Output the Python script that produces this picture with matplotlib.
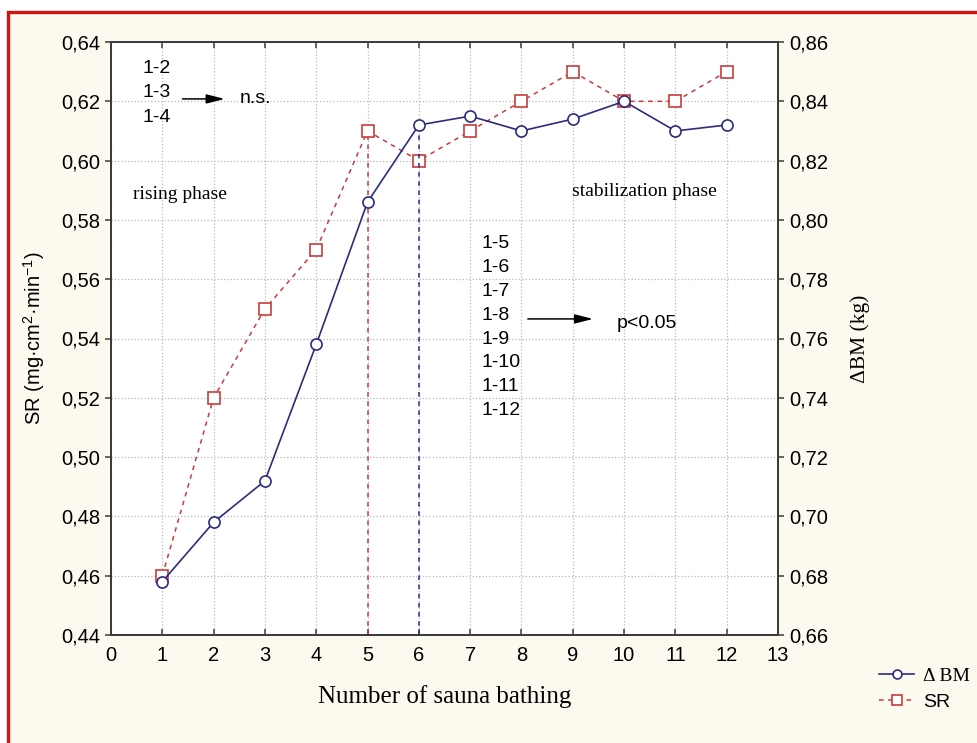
import numpy as np
import matplotlib.pyplot as plt
from matplotlib.patches import Rectangle
from matplotlib.ticker import FuncFormatter, MultipleLocator

plt.rcParams['font.family'] = ['Liberation Sans', 'DejaVu Sans']
plt.rcParams['mathtext.fontset'] = 'custom'
plt.rcParams['mathtext.rm'] = 'Liberation Sans'
plt.rcParams['mathtext.it'] = 'Liberation Sans:italic'

# dane
sessions = np.arange(1, 13)
sr = [0.46, 0.52, 0.55, 0.57, 0.61, 0.60, 0.61, 0.62, 0.63, 0.62, 0.62, 0.63]
dbm = [0.678, 0.698, 0.712, 0.758, 0.806, 0.832, 0.835, 0.830, 0.834, 0.840, 0.830, 0.832]
ns_pairs = ['1-2', '1-3', '1-4']
sig_pairs = ['1-5', '1-6', '1-7', '1-8', '1-9', '1-10', '1-11', '1-12']

blue = '#2c2c7c'
red = '#c83c3c'
cream = '#fcf9ef'

fig = plt.figure(figsize=(9.77, 7.43), dpi=100, facecolor='white')
# tlo z czerwona ramka (lewa i gorna krawedz)
fig.patches.append(Rectangle((8 / 977, -0.1), 1.2, 1 - 12 / 743 + 0.1,
                             transform=fig.transFigure, facecolor=cream,
                             edgecolor='#d41414', lw=2.4, zorder=-10))

ax = fig.add_axes([111 / 977, 1 - 635 / 743, 667 / 977, 593 / 743])
ax2 = ax.twinx()

comma = FuncFormatter(lambda v, p: f'{v:.2f}'.replace('.', ','))

# SR - lewa os
ax.plot(sessions, sr, color=red, ls=(0, (3, 3)), lw=1.1, marker='s', ms=8.5,
        mfc='white', mec=red, mew=1.2, label='SR', zorder=3)
ax.vlines(sessions[4], 0.44, sr[4], colors=red, linestyles=(0, (3, 3)), lw=1.1)

# delta BM - prawa os
ax2.plot(sessions, dbm, color=blue, lw=1.2, marker='o', ms=8,
         mfc='white', mec=blue, mew=1.2, label='Δ BM', zorder=3)
ax2.vlines(sessions[5], 0.66, dbm[5], colors=blue, linestyles=(0, (3, 3)), lw=1.1)

ax.set_xlim(0, 13)
ax.set_ylim(0.44, 0.64)
ax2.set_ylim(0.66, 0.86)
ax.xaxis.set_major_locator(MultipleLocator(1))
ax.yaxis.set_major_locator(MultipleLocator(0.02))
ax2.yaxis.set_major_locator(MultipleLocator(0.02))
ax.yaxis.set_major_formatter(comma)
ax2.yaxis.set_major_formatter(comma)

ax.grid(True, ls=':', color='#b8b8b8', lw=0.9)
ax.set_facecolor('white')
for a in (ax, ax2):
    for s in a.spines.values():
        s.set_color('#3c3c3c')
        s.set_linewidth(1.4)

ax.tick_params(axis='x', direction='in', top=True, length=4, width=1.1,
               labelsize=14.5, pad=8, color='#3c3c3c')
ax.tick_params(axis='y', direction='out', right=False, length=4, width=1.1,
               labelsize=14.5, pad=4, color='#3c3c3c')
ax2.tick_params(axis='y', direction='out', length=4, width=1.1,
                labelsize=14.5, pad=4, color='#3c3c3c')

ax.set_xlabel('Number of sauna bathing', family='Liberation Serif', fontsize=18)
ax.xaxis.set_label_coords(0.5, -0.085)
ax.set_ylabel('SR (mg·cm$^{2}$·min$^{-1}$)', fontsize=14.5)
ax.yaxis.set_label_coords(-0.096, 0.5)
ax2.set_ylabel('ΔBM (kg)', family='Liberation Serif', fontsize=15.5)
ax2.yaxis.set_label_coords(1.108, 0.5)

# adnotacje
arrow = dict(arrowstyle='-|>,head_length=1.1,head_width=0.28', color='black', lw=1.1)
for i, t in enumerate(ns_pairs):
    ax.text(0.62, 0.6312 - i * 0.0083, t, fontsize=14, va='center', ha='left')
ax.annotate('', xy=(2.27, 0.6208), xytext=(1.34, 0.6208), arrowprops=arrow)
ax.text(2.51, 0.6208, 'n.s.', fontsize=14, va='center', ha='left')

for i, t in enumerate(sig_pairs):
    ax.text(7.22, 0.5719 - i * 0.00803, t, fontsize=14, va='center', ha='left')
ax.annotate('', xy=(9.45, 0.5466), xytext=(8.07, 0.5466), arrowprops=arrow)
ax.text(9.86, 0.5452, 'p<0.05', fontsize=14, va='center', ha='left')

ax.text(0.43, 0.5887, 'rising phase', family='Liberation Serif', fontsize=14,
        va='center', ha='left')
ax.text(8.98, 0.5895, 'stabilization phase', family='Liberation Serif', fontsize=14,
        va='center', ha='left')

h1, l1 = ax2.get_legend_handles_labels()
h2, l2 = ax.get_legend_handles_labels()
leg = fig.legend(h1 + h2, l1 + l2, loc='upper left', bbox_to_anchor=(879 / 977, 1 - 667 / 743),
                 frameon=False, fontsize=14, handlelength=1.8, handletextpad=0.45,
                 labelspacing=0.45, borderpad=0, borderaxespad=0, markerscale=0.8)
leg.get_texts()[0].set_family('Liberation Serif')

fig.savefig('out.png', dpi=100, facecolor=fig.get_facecolor())
